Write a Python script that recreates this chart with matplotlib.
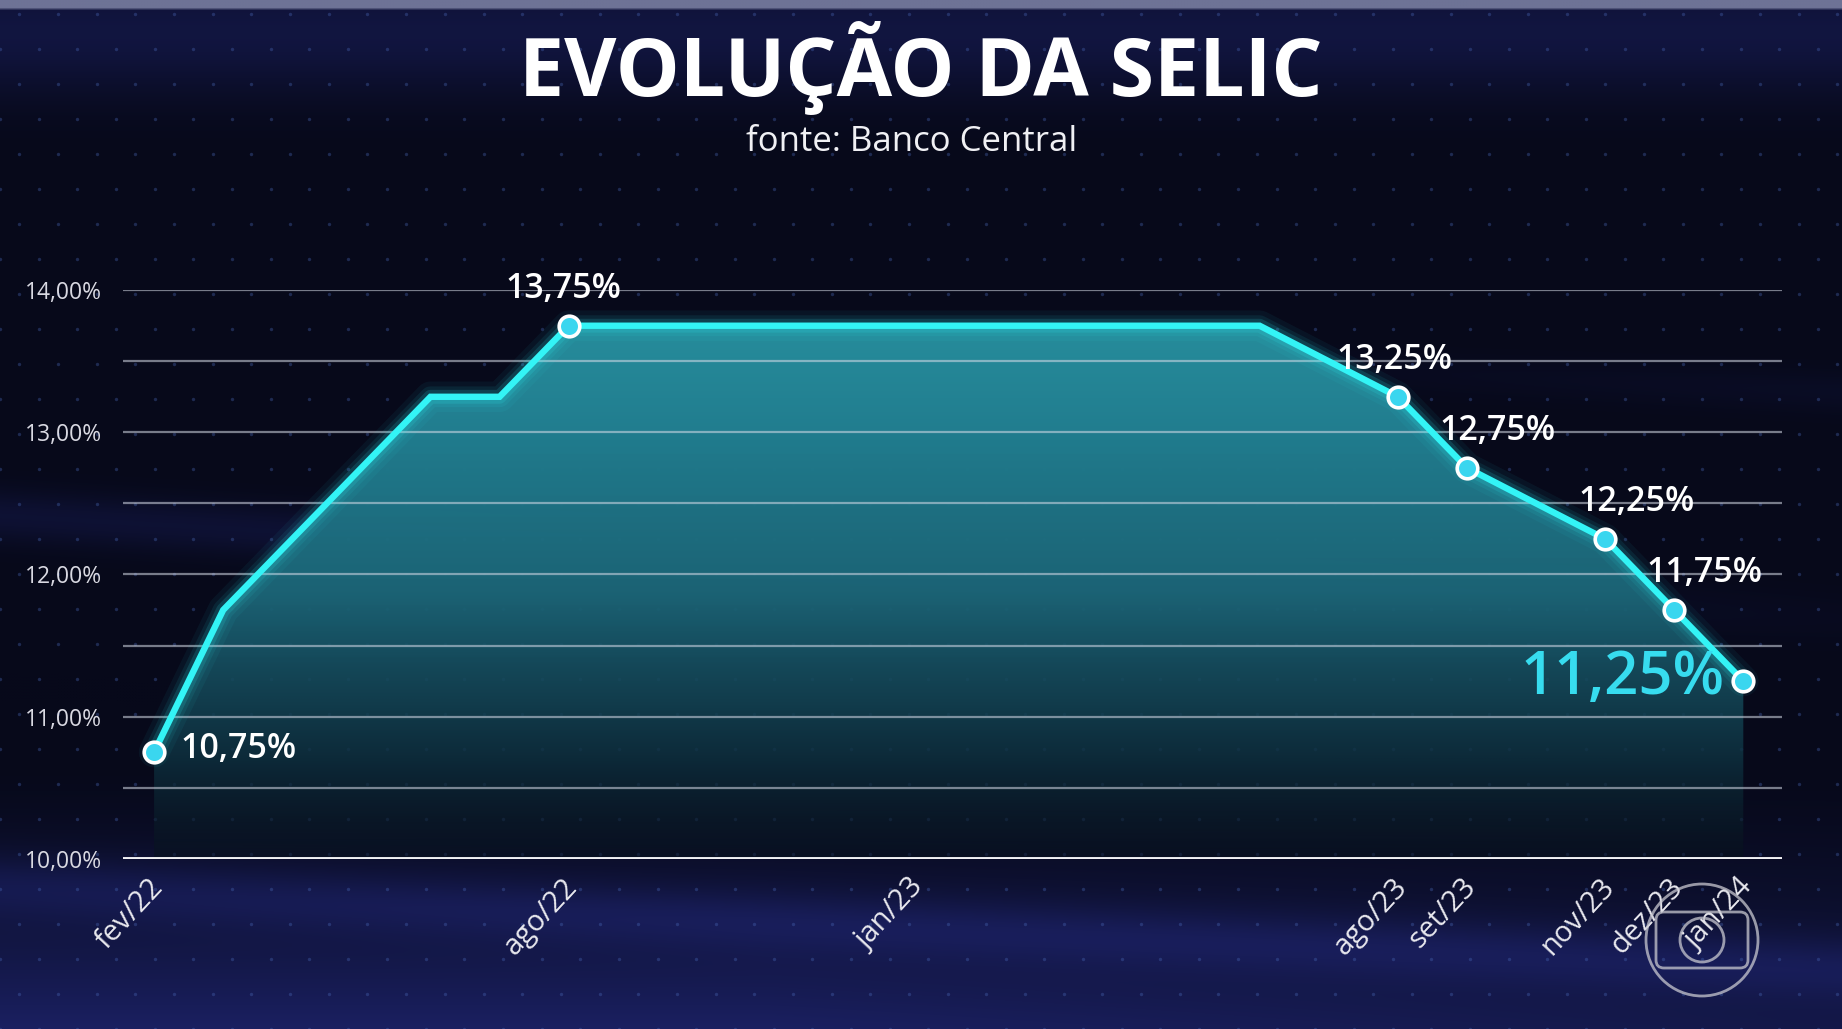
import numpy as np
import matplotlib
matplotlib.use("Agg")
import matplotlib.pyplot as plt
from matplotlib.patches import Circle, FancyBboxPatch, Polygon
from matplotlib.colors import LinearSegmentedColormap

# ---------------- data ----------------
months = ["fev/22", "mar/22", "abr/22", "mai/22", "jun/22", "jul/22", "ago/22",
          "set/22", "out/22", "nov/22", "dez/22", "jan/23", "fev/23", "mar/23",
          "abr/23", "mai/23", "jun/23", "jul/23", "ago/23", "set/23", "out/23",
          "nov/23", "dez/23", "jan/24"]
line_months = ["fev/22", "mar/22", "jun/22", "jul/22", "ago/22", "jun/23",
               "ago/23", "set/23", "nov/23", "dez/23", "jan/24"]
line_values = [10.75, 11.75, 13.25, 13.25, 13.75, 13.75, 13.25, 12.75, 12.25, 11.75, 11.25]
marked_months = ["fev/22", "ago/22", "ago/23", "set/23", "nov/23", "dez/23", "jan/24"]
marked_labels = ["10,75%", "13,75%", "13,25%", "12,75%", "12,25%", "11,75%", "11,25%"]
tick_months = ["fev/22", "ago/22", "jan/23", "ago/23", "set/23", "nov/23", "dez/23", "jan/24"]
y_ticks = [10, 11, 12, 13, 14]
y_tick_labels = ["10,00%", "11,00%", "12,00%", "13,00%", "14,00%"]

title = "EVOLUÇÃO DA SELIC"
subtitle = "fonte: Banco Central"

# ---------------- figure ----------------
W, H = 1842, 1029
fig = plt.figure(figsize=(W / 100, H / 100), dpi=100)
fig.patch.set_facecolor("#070a1c")

# background texture (decorative)
bg = fig.add_axes([0, 0, 1, 1])
bg.set_axis_off()
h, w = 343, 614
yy, xx = np.mgrid[0:h, 0:w]
yn = yy / h
xn = xx / w
img = np.zeros((h, w, 3))
base = np.array([7, 9, 26]) / 255
img[:] = base
blue = np.array([30, 36, 110]) / 255
top = np.exp(-((yn - 0.03) / 0.06) ** 2) * 0.45
bot = np.clip((yn - 0.74) / 0.26, 0, 1) ** 1.4 * 0.85 * np.clip(1.25 - 0.6 * xn, 0, 1)
s1 = np.exp(-((yn - (0.50 + 0.10 * xn)) / 0.025) ** 2) * 0.30 * np.clip(1.2 - xn, 0, 1)
s2 = np.exp(-((yn - (0.86 + 0.08 * xn)) / 0.03) ** 2) * 0.35
s3 = np.exp(-((yn - (0.30 + 0.08 * xn)) / 0.02) ** 2) * 0.25 * np.clip(xn - 0.5, 0, 1)
amt = np.clip(top + bot + s1 + s2 + s3, 0, 1)[..., None]
img = img * (1 - amt) + blue * amt
img[:3] = np.array([110, 115, 150]) / 255
bg.imshow(img, extent=[0, 1, 0, 1], aspect="auto", interpolation="bilinear", zorder=0)
gx, gy = np.meshgrid(np.arange(0.0, 1.0, 0.021), np.arange(0.0, 1.0, 0.034))
gx = gx + (np.arange(gx.shape[0])[:, None] % 2) * 0.0105
bg.scatter(gx.ravel(), gy.ravel(), s=6, color="#4a6ab8", alpha=0.35, linewidths=0, zorder=1)
bg.set_xlim(0, 1)
bg.set_ylim(0, 1)

# main axes
x0_px, x1_px = 123, 1782
y10_px, y14_px = 858.7, 290.2
ax = fig.add_axes([x0_px / W, 1 - y10_px / H, (x1_px - x0_px) / W, (y10_px - y14_px) / H])
ax.patch.set_alpha(0)
ax.set_xlim(-0.45, 23.56)
ax.set_ylim(10, 14)
for s in ax.spines.values():
    s.set_visible(False)

idx = {m: i for i, m in enumerate(months)}
lx = np.array([idx[m] for m in line_months], dtype=float)
ly = np.array(line_values)

# gradient fill under the line
verts = np.column_stack([np.r_[lx, lx[-1], lx[0]], np.r_[ly, 10, 10]])
poly = Polygon(verts, closed=True, facecolor="none", edgecolor="none")
ax.add_patch(poly)
cmap = LinearSegmentedColormap.from_list("fill", [
    (0.0, (0.03, 0.07, 0.11, 0.55)),
    (0.2, (0.06, 0.20, 0.26, 0.85)),
    (0.5, (0.11, 0.40, 0.47, 0.97)),
    (0.8, (0.13, 0.49, 0.56, 1.0)),
    (1.0, (0.15, 0.55, 0.61, 1.0)),
])
grad = np.linspace(0, 1, 256)[:, None]
im = ax.imshow(grad, extent=[lx[0], lx[-1], 10, 13.75], origin="lower", aspect="auto",
               cmap=cmap, zorder=1, interpolation="bilinear")
im.set_clip_path(poly)

# grid lines
for v in np.arange(10.5, 14.01, 0.5):
    ax.axhline(v, color="#d6dbe8", lw=1.6, alpha=0.55, zorder=2)
ax.axhline(10, color="#f2f2f5", lw=2.8, zorder=3)

# glow + line
for lw_, a in [(22, 0.05), (15, 0.08), (10, 0.14)]:
    ax.plot(lx, ly, color="#2ef2f5", lw=lw_, alpha=a, solid_joinstyle="round",
            solid_capstyle="round", zorder=4)
ax.plot(lx, ly, color="#33f4f6", lw=4.6, solid_joinstyle="miter", zorder=5)

# markers and labels
mx = np.array([idx[m] for m in marked_months], dtype=float)
my = np.array([line_values[line_months.index(m)] for m in marked_months])
ax.scatter(mx, my, s=220, color="#3ad6ef", edgecolors="white", linewidths=2.6,
           zorder=6, clip_on=False)

label_style = [
    dict(xytext=(26, 3), ha="left", va="center", fs=24.5, color="white"),
    dict(xytext=(-5, 37), ha="center", va="center", fs=24.5, color="white"),
    dict(xytext=(-3, 37), ha="center", va="center", fs=24.5, color="white"),
    dict(xytext=(31, 37), ha="center", va="center", fs=24.5, color="white"),
    dict(xytext=(31, 37), ha="center", va="center", fs=24.5, color="white"),
    dict(xytext=(30, 37), ha="center", va="center", fs=24.5, color="white"),
    dict(xytext=(-19, 3), ha="right", va="center", fs=43, color="#37dcef"),
]
for x, y, lab, st in zip(mx, my, marked_labels, label_style):
    ax.annotate(lab, xy=(x, y), xytext=st["xytext"], textcoords="offset pixels",
                ha=st["ha"], va=st["va"], fontsize=st["fs"], color=st["color"],
                fontfamily="Open Sans", fontweight="semibold", zorder=7,
                annotation_clip=False)

# y ticks
ax.set_yticks(y_ticks)
ax.set_yticklabels(y_tick_labels, fontfamily="Open Sans", fontsize=16.5, color="#d9d9e2")
ax.tick_params(axis="y", length=0, pad=15)
ax.set_xticks([])

# x tick labels (rotated)
for m in tick_months:
    ax.annotate(m, xy=(idx[m], 10), xytext=(-6, -14), textcoords="offset pixels",
                rotation=47, rotation_mode="anchor", ha="right", va="top",
                fontsize=21, color="#e8e8ee", fontfamily="Open Sans", zorder=7,
                annotation_clip=False)

# titles
fig.text(0.5, 1 - 68 / H, title, ha="center", va="center", fontsize=58,
         fontweight="bold", color="white", fontfamily="Open Sans")
fig.text(912 / W, 1 - 142 / H, subtitle, ha="center", va="center", fontsize=25,
         color="#f0f0f4", fontfamily="Open Sans")

# broadcaster watermark (decorative)
lay = fig.add_axes([0, 0, 1, 1])
lay.set_axis_off()
lay.set_xlim(0, W)
lay.set_ylim(0, H)
lay.patch.set_alpha(0)
wc = (1702, H - 940)
lay.add_patch(Circle(wc, 56, fill=False, ec="#c8c8d0", lw=2, alpha=0.75))
lay.add_patch(FancyBboxPatch((wc[0] - 46, wc[1] - 28), 92, 56,
                             boxstyle="round,pad=0,rounding_size=8",
                             fill=False, ec="#c8c8d0", lw=2, alpha=0.75))
lay.add_patch(Circle(wc, 22, fill=False, ec="#c8c8d0", lw=2, alpha=0.75))

fig.savefig("out.png", dpi=100, facecolor=fig.get_facecolor())
